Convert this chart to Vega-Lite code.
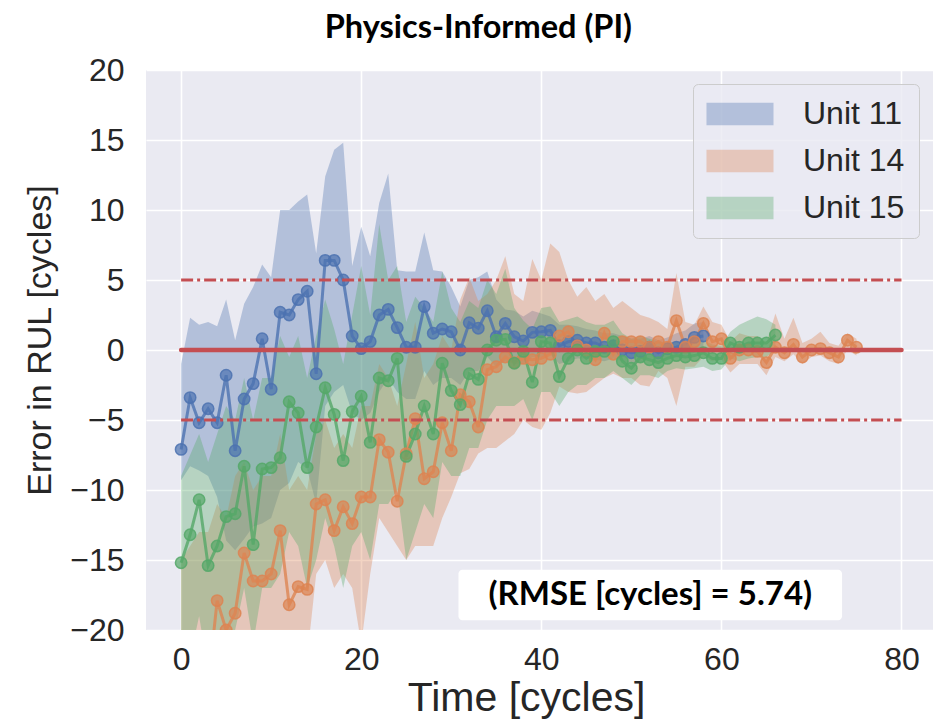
{
  "$schema": "https://vega.github.io/schema/vega-lite/v6.json",
  "width": 787,
  "height": 560,
  "autosize": {"type": "none"},
  "padding": {"left": 146, "top": 70, "right": 0, "bottom": 97},
  "background": "white",
  "title": {"text": "Physics-Informed (PI)", "font": "Lato", "fontWeight": "bold", "fontSize": 32.5, "color": "black", "anchor": "middle", "frame": "bounds", "offset": 10},
  "config": {
    "view": {"fill": "#EAEAF2", "stroke": null},
    "axis": {"gridColor": "white", "gridWidth": 1.6, "gridOpacity": 1, "domain": false, "ticks": false, "labelFont": "Liberation Sans", "labelFontSize": 32, "labelColor": "#262626", "titleFont": "Liberation Sans", "titleFontSize": 34, "titleFontWeight": "normal", "titleColor": "#262626"}
  },
  "data": {"values": [
    {"unit":"Unit 11","t":0,"m":-7.1,"lo":-9.3,"hi":-1.0},
    {"unit":"Unit 11","t":1,"m":-3.4,"lo":-8.3,"hi":2.3},
    {"unit":"Unit 11","t":2,"m":-5.2,"lo":-8.6,"hi":1.8},
    {"unit":"Unit 11","t":3,"m":-4.2,"lo":-9.0,"hi":2.0},
    {"unit":"Unit 11","t":4,"m":-5.2,"lo":-10.5,"hi":1.7},
    {"unit":"Unit 11","t":5,"m":-1.8,"lo":-13.6,"hi":3.6},
    {"unit":"Unit 11","t":6,"m":-7.2,"lo":-14.3,"hi":0.7},
    {"unit":"Unit 11","t":7,"m":-3.5,"lo":-13.5,"hi":3.3},
    {"unit":"Unit 11","t":8,"m":-2.4,"lo":-12.6,"hi":4.5},
    {"unit":"Unit 11","t":9,"m":0.8,"lo":-12.4,"hi":6.1},
    {"unit":"Unit 11","t":10,"m":-2.8,"lo":-12.0,"hi":5.2},
    {"unit":"Unit 11","t":11,"m":2.7,"lo":-10.0,"hi":10.0},
    {"unit":"Unit 11","t":12,"m":2.5,"lo":-9.5,"hi":10.0},
    {"unit":"Unit 11","t":13,"m":3.6,"lo":-8.0,"hi":10.6},
    {"unit":"Unit 11","t":14,"m":4.2,"lo":-8.5,"hi":11.1},
    {"unit":"Unit 11","t":15,"m":-1.7,"lo":-11.0,"hi":6.9},
    {"unit":"Unit 11","t":16,"m":6.4,"lo":-4.0,"hi":12.4},
    {"unit":"Unit 11","t":17,"m":6.4,"lo":-3.0,"hi":14.3},
    {"unit":"Unit 11","t":18,"m":5.0,"lo":-2.5,"hi":14.8},
    {"unit":"Unit 11","t":19,"m":1.0,"lo":-4.5,"hi":6.0},
    {"unit":"Unit 11","t":20,"m":0.1,"lo":-5.0,"hi":8.8},
    {"unit":"Unit 11","t":21,"m":0.6,"lo":-4.5,"hi":6.7},
    {"unit":"Unit 11","t":22,"m":2.5,"lo":-3.0,"hi":10.5},
    {"unit":"Unit 11","t":23,"m":2.9,"lo":-2.0,"hi":12.6},
    {"unit":"Unit 11","t":24,"m":1.6,"lo":-3.0,"hi":5.7},
    {"unit":"Unit 11","t":25,"m":0.2,"lo":-3.5,"hi":5.6},
    {"unit":"Unit 11","t":26,"m":0.2,"lo":-3.5,"hi":5.6},
    {"unit":"Unit 11","t":27,"m":3.1,"lo":-1.5,"hi":8.4},
    {"unit":"Unit 11","t":28,"m":1.2,"lo":-2.5,"hi":5.7},
    {"unit":"Unit 11","t":29,"m":1.5,"lo":-2.0,"hi":5.6},
    {"unit":"Unit 11","t":30,"m":1.3,"lo":-2.0,"hi":4.5},
    {"unit":"Unit 11","t":31,"m":0.0,"lo":-2.5,"hi":3.1},
    {"unit":"Unit 11","t":32,"m":1.95,"lo":-1.5,"hi":5.0},
    {"unit":"Unit 11","t":33,"m":1.55,"lo":-1.5,"hi":5.2},
    {"unit":"Unit 11","t":34,"m":2.8,"lo":-0.5,"hi":5.6},
    {"unit":"Unit 11","t":35,"m":0.95,"lo":-1.2,"hi":3.6},
    {"unit":"Unit 11","t":36,"m":1.9,"lo":-0.8,"hi":2.9},
    {"unit":"Unit 11","t":37,"m":0.95,"lo":-1.0,"hi":2.8},
    {"unit":"Unit 11","t":38,"m":0.64,"lo":-1.0,"hi":2.4},
    {"unit":"Unit 11","t":39,"m":1.26,"lo":-0.5,"hi":2.8},
    {"unit":"Unit 11","t":40,"m":1.3,"lo":-0.5,"hi":2.6},
    {"unit":"Unit 11","t":41,"m":1.4,"lo":-0.3,"hi":2.4},
    {"unit":"Unit 11","t":42,"m":0.3,"lo":-1.0,"hi":1.8},
    {"unit":"Unit 11","t":43,"m":0.6,"lo":-0.8,"hi":1.8},
    {"unit":"Unit 11","t":44,"m":0.7,"lo":-0.6,"hi":1.7},
    {"unit":"Unit 11","t":45,"m":0.5,"lo":-0.6,"hi":1.5},
    {"unit":"Unit 11","t":46,"m":0.5,"lo":-0.7,"hi":1.4},
    {"unit":"Unit 11","t":47,"m":0.2,"lo":-0.8,"hi":1.2},
    {"unit":"Unit 11","t":48,"m":0.3,"lo":-0.6,"hi":1.2},
    {"unit":"Unit 11","t":49,"m":0.0,"lo":-0.8,"hi":1.0},
    {"unit":"Unit 11","t":50,"m":-0.2,"lo":-1.0,"hi":0.8},
    {"unit":"Unit 11","t":51,"m":-0.1,"lo":-0.9,"hi":0.8},
    {"unit":"Unit 11","t":52,"m":0.2,"lo":-0.6,"hi":1.0},
    {"unit":"Unit 11","t":53,"m":-0.2,"lo":-0.9,"hi":0.7},
    {"unit":"Unit 11","t":54,"m":0.1,"lo":-0.6,"hi":0.9},
    {"unit":"Unit 11","t":55,"m":0.2,"lo":-0.5,"hi":1.2},
    {"unit":"Unit 11","t":56,"m":0.4,"lo":-0.4,"hi":1.4},
    {"unit":"Unit 11","t":57,"m":0.9,"lo":-0.2,"hi":1.9},
    {"unit":"Unit 11","t":58,"m":1.0,"lo":0.0,"hi":2.0},
    {"unit":"Unit 14","t":0,"m":-28,"lo":-40,"hi":-15},
    {"unit":"Unit 14","t":1,"m":-27,"lo":-40,"hi":-14},
    {"unit":"Unit 14","t":2,"m":-26,"lo":-38,"hi":-13},
    {"unit":"Unit 14","t":3,"m":-24,"lo":-36,"hi":-13},
    {"unit":"Unit 14","t":4,"m":-17.9,"lo":-30,"hi":-11},
    {"unit":"Unit 14","t":5,"m":-20.0,"lo":-32,"hi":-12},
    {"unit":"Unit 14","t":6,"m":-18.8,"lo":-30,"hi":-9},
    {"unit":"Unit 14","t":7,"m":-14.5,"lo":-26,"hi":-8},
    {"unit":"Unit 14","t":8,"m":-16.5,"lo":-28,"hi":-10},
    {"unit":"Unit 14","t":9,"m":-16.5,"lo":-27,"hi":-9},
    {"unit":"Unit 14","t":10,"m":-16.0,"lo":-26,"hi":-9},
    {"unit":"Unit 14","t":11,"m":-12.9,"lo":-22,"hi":-6},
    {"unit":"Unit 14","t":12,"m":-18.2,"lo":-28,"hi":-10},
    {"unit":"Unit 14","t":13,"m":-16.9,"lo":-26,"hi":-9},
    {"unit":"Unit 14","t":14,"m":-17.1,"lo":-22,"hi":-10},
    {"unit":"Unit 14","t":15,"m":-11.0,"lo":-16,"hi":-6},
    {"unit":"Unit 14","t":16,"m":-10.7,"lo":-15,"hi":-5},
    {"unit":"Unit 14","t":17,"m":-12.9,"lo":-17,"hi":-7},
    {"unit":"Unit 14","t":18,"m":-11.2,"lo":-16,"hi":-6},
    {"unit":"Unit 14","t":19,"m":-12.4,"lo":-17,"hi":-7},
    {"unit":"Unit 14","t":20,"m":-10.5,"lo":-21,"hi":-4},
    {"unit":"Unit 14","t":21,"m":-10.5,"lo":-16,"hi":-4},
    {"unit":"Unit 14","t":22,"m":-6.4,"lo":-12,"hi":-1},
    {"unit":"Unit 14","t":23,"m":-7.3,"lo":-13,"hi":-2},
    {"unit":"Unit 14","t":24,"m":-10.8,"lo":-14,"hi":-4},
    {"unit":"Unit 14","t":25,"m":-7.4,"lo":-15,"hi":-1},
    {"unit":"Unit 14","t":26,"m":-4.9,"lo":-14,"hi":2},
    {"unit":"Unit 14","t":27,"m":-9.2,"lo":-14,"hi":-2},
    {"unit":"Unit 14","t":28,"m":-8.7,"lo":-14,"hi":-1},
    {"unit":"Unit 14","t":29,"m":-5.2,"lo":-12,"hi":1},
    {"unit":"Unit 14","t":30,"m":-7.2,"lo":-10.5,"hi":0},
    {"unit":"Unit 14","t":31,"m":-3.2,"lo":-8.8,"hi":3.6},
    {"unit":"Unit 14","t":32,"m":-3.7,"lo":-8.5,"hi":5.2},
    {"unit":"Unit 14","t":33,"m":-5.5,"lo":-7.4,"hi":3.5},
    {"unit":"Unit 14","t":34,"m":-1.4,"lo":-7,"hi":4},
    {"unit":"Unit 14","t":35,"m":-1.2,"lo":-7,"hi":5},
    {"unit":"Unit 14","t":36,"m":-0.5,"lo":-6.5,"hi":6.7},
    {"unit":"Unit 14","t":37,"m":-0.9,"lo":-6,"hi":4},
    {"unit":"Unit 14","t":38,"m":-0.6,"lo":-5,"hi":3.5},
    {"unit":"Unit 14","t":39,"m":-0.7,"lo":-5.5,"hi":6.5},
    {"unit":"Unit 14","t":40,"m":-0.6,"lo":-5.7,"hi":5},
    {"unit":"Unit 14","t":41,"m":-0.3,"lo":-4.5,"hi":7.6},
    {"unit":"Unit 14","t":42,"m":1.0,"lo":-2.6,"hi":7},
    {"unit":"Unit 14","t":43,"m":1.3,"lo":-3,"hi":5},
    {"unit":"Unit 14","t":44,"m":0.3,"lo":-3.1,"hi":3.8},
    {"unit":"Unit 14","t":45,"m":0.0,"lo":-3,"hi":4.5},
    {"unit":"Unit 14","t":46,"m":-0.7,"lo":-2.5,"hi":3.5},
    {"unit":"Unit 14","t":47,"m":1.2,"lo":-2,"hi":4},
    {"unit":"Unit 14","t":48,"m":-0.3,"lo":-1.7,"hi":3},
    {"unit":"Unit 14","t":49,"m":0.6,"lo":-2,"hi":3.5},
    {"unit":"Unit 14","t":50,"m":0.6,"lo":-2,"hi":3},
    {"unit":"Unit 14","t":51,"m":0.6,"lo":-2.5,"hi":2.5},
    {"unit":"Unit 14","t":52,"m":0.2,"lo":-2.6,"hi":2.3},
    {"unit":"Unit 14","t":53,"m":0.6,"lo":-1.5,"hi":2},
    {"unit":"Unit 14","t":54,"m":0.2,"lo":-2,"hi":1.5},
    {"unit":"Unit 14","t":55,"m":2.1,"lo":-4,"hi":5.5},
    {"unit":"Unit 14","t":56,"m":0.2,"lo":-1.2,"hi":2},
    {"unit":"Unit 14","t":57,"m":0.6,"lo":-1.2,"hi":1.8},
    {"unit":"Unit 14","t":58,"m":1.9,"lo":-0.5,"hi":3.1},
    {"unit":"Unit 14","t":59,"m":0.6,"lo":-0.8,"hi":2},
    {"unit":"Unit 14","t":60,"m":0.8,"lo":-0.7,"hi":1.8},
    {"unit":"Unit 14","t":61,"m":-0.6,"lo":-1.6,"hi":0.6},
    {"unit":"Unit 14","t":62,"m":0.0,"lo":-1,"hi":1.2},
    {"unit":"Unit 14","t":63,"m":0.0,"lo":-1,"hi":1},
    {"unit":"Unit 14","t":64,"m":-0.1,"lo":-1,"hi":1},
    {"unit":"Unit 14","t":65,"m":-0.9,"lo":-1.8,"hi":0.5},
    {"unit":"Unit 14","t":66,"m":0.2,"lo":-0.5,"hi":2.6},
    {"unit":"Unit 14","t":67,"m":-0.2,"lo":-0.8,"hi":0.8},
    {"unit":"Unit 14","t":68,"m":0.4,"lo":-0.3,"hi":2.3},
    {"unit":"Unit 14","t":69,"m":-0.5,"lo":-1,"hi":0.5},
    {"unit":"Unit 14","t":70,"m":0.0,"lo":-0.5,"hi":0.8},
    {"unit":"Unit 14","t":71,"m":0.1,"lo":-0.4,"hi":1.3},
    {"unit":"Unit 14","t":72,"m":-0.2,"lo":-0.8,"hi":0.5},
    {"unit":"Unit 14","t":73,"m":-0.5,"lo":-1,"hi":0.3},
    {"unit":"Unit 14","t":74,"m":0.7,"lo":0,"hi":1.2},
    {"unit":"Unit 14","t":75,"m":0.2,"lo":-0.4,"hi":0.8},
    {"unit":"Unit 15","t":0,"m":-15.2,"lo":-25,"hi":-9},
    {"unit":"Unit 15","t":1,"m":-13.2,"lo":-22,"hi":-7.5},
    {"unit":"Unit 15","t":2,"m":-10.7,"lo":-19,"hi":-6},
    {"unit":"Unit 15","t":3,"m":-15.4,"lo":-23,"hi":-8},
    {"unit":"Unit 15","t":4,"m":-14.0,"lo":-22,"hi":-6},
    {"unit":"Unit 15","t":5,"m":-11.9,"lo":-20,"hi":-4},
    {"unit":"Unit 15","t":6,"m":-11.7,"lo":-20,"hi":-5},
    {"unit":"Unit 15","t":7,"m":-8.3,"lo":-17,"hi":-2},
    {"unit":"Unit 15","t":8,"m":-13.9,"lo":-21,"hi":-5},
    {"unit":"Unit 15","t":9,"m":-8.5,"lo":-17,"hi":-2},
    {"unit":"Unit 15","t":10,"m":-8.4,"lo":-17,"hi":-2},
    {"unit":"Unit 15","t":11,"m":-7.7,"lo":-16,"hi":1.0},
    {"unit":"Unit 15","t":12,"m":-3.7,"lo":-13,"hi":-0.5},
    {"unit":"Unit 15","t":13,"m":-4.5,"lo":-14,"hi":1},
    {"unit":"Unit 15","t":14,"m":-8.4,"lo":-17,"hi":-2},
    {"unit":"Unit 15","t":15,"m":-5.5,"lo":-15,"hi":1},
    {"unit":"Unit 15","t":16,"m":-2.7,"lo":-12,"hi":3.6},
    {"unit":"Unit 15","t":17,"m":-4.6,"lo":-14,"hi":1.5},
    {"unit":"Unit 15","t":18,"m":-7.9,"lo":-17,"hi":-1},
    {"unit":"Unit 15","t":19,"m":-4.4,"lo":-14,"hi":2.5},
    {"unit":"Unit 15","t":20,"m":-3.3,"lo":-13,"hi":6.0},
    {"unit":"Unit 15","t":21,"m":-6.6,"lo":-15,"hi":2.5},
    {"unit":"Unit 15","t":22,"m":-2.0,"lo":-11,"hi":9.0},
    {"unit":"Unit 15","t":23,"m":-2.2,"lo":-11,"hi":5},
    {"unit":"Unit 15","t":24,"m":-0.6,"lo":-10,"hi":6.0},
    {"unit":"Unit 15","t":25,"m":-7.6,"lo":-15,"hi":2},
    {"unit":"Unit 15","t":26,"m":-6.0,"lo":-13,"hi":3.8},
    {"unit":"Unit 15","t":27,"m":-4.0,"lo":-11,"hi":3},
    {"unit":"Unit 15","t":28,"m":-6.0,"lo":-12,"hi":2},
    {"unit":"Unit 15","t":29,"m":-0.95,"lo":-8,"hi":5.6},
    {"unit":"Unit 15","t":30,"m":-2.9,"lo":-9,"hi":3},
    {"unit":"Unit 15","t":31,"m":-3.9,"lo":-9,"hi":2},
    {"unit":"Unit 15","t":32,"m":-1.7,"lo":-7,"hi":3.5},
    {"unit":"Unit 15","t":33,"m":-2.1,"lo":-7,"hi":3},
    {"unit":"Unit 15","t":34,"m":0.0,"lo":-5,"hi":5.0},
    {"unit":"Unit 15","t":35,"m":0.7,"lo":-4,"hi":4},
    {"unit":"Unit 15","t":36,"m":0.76,"lo":-4,"hi":5.8},
    {"unit":"Unit 15","t":37,"m":-0.95,"lo":-4,"hi":3},
    {"unit":"Unit 15","t":38,"m":-0.1,"lo":-3.5,"hi":2.1},
    {"unit":"Unit 15","t":39,"m":-2.3,"lo":-5,"hi":1.5},
    {"unit":"Unit 15","t":40,"m":0.6,"lo":-3,"hi":3},
    {"unit":"Unit 15","t":41,"m":0.5,"lo":-3,"hi":3.1},
    {"unit":"Unit 15","t":42,"m":-1.9,"lo":-4,"hi":2.0},
    {"unit":"Unit 15","t":43,"m":-0.6,"lo":-3,"hi":2.2},
    {"unit":"Unit 15","t":44,"m":0.0,"lo":-2.5,"hi":2.4},
    {"unit":"Unit 15","t":45,"m":-0.6,"lo":-2.5,"hi":2},
    {"unit":"Unit 15","t":46,"m":-0.1,"lo":-2,"hi":1.8},
    {"unit":"Unit 15","t":47,"m":-0.1,"lo":-2,"hi":1.8},
    {"unit":"Unit 15","t":48,"m":0.6,"lo":-1.5,"hi":2.1},
    {"unit":"Unit 15","t":49,"m":-0.8,"lo":-2,"hi":1.2},
    {"unit":"Unit 15","t":50,"m":-1.3,"lo":-2.5,"hi":0.8},
    {"unit":"Unit 15","t":51,"m":-0.5,"lo":-1.8,"hi":1},
    {"unit":"Unit 15","t":52,"m":-0.7,"lo":-1.8,"hi":0.8},
    {"unit":"Unit 15","t":53,"m":-0.9,"lo":-2,"hi":0.6},
    {"unit":"Unit 15","t":54,"m":-0.6,"lo":-1.5,"hi":0.5},
    {"unit":"Unit 15","t":55,"m":-0.4,"lo":-1.3,"hi":0.6},
    {"unit":"Unit 15","t":56,"m":-0.5,"lo":-1.4,"hi":0.5},
    {"unit":"Unit 15","t":57,"m":-0.4,"lo":-1.3,"hi":0.6},
    {"unit":"Unit 15","t":58,"m":-0.2,"lo":-1.2,"hi":0.7},
    {"unit":"Unit 15","t":59,"m":-0.6,"lo":-1.5,"hi":0.4},
    {"unit":"Unit 15","t":60,"m":-0.6,"lo":-1.4,"hi":0.3},
    {"unit":"Unit 15","t":61,"m":0.5,"lo":-0.6,"hi":1.3},
    {"unit":"Unit 15","t":62,"m":0.2,"lo":-0.8,"hi":1.8},
    {"unit":"Unit 15","t":63,"m":0.5,"lo":-0.6,"hi":2.1},
    {"unit":"Unit 15","t":64,"m":0.5,"lo":-0.5,"hi":2.4},
    {"unit":"Unit 15","t":65,"m":0.5,"lo":-0.5,"hi":2.2},
    {"unit":"Unit 15","t":66,"m":1.07,"lo":0.0,"hi":1.8}
  ]},
  "encoding": {
    "x": {"type": "quantitative", "title": "Time [cycles]", "scale": {"domain": [-3.9, 83.5], "nice": false, "zero": false}, "axis": {"values": [0, 20, 40, 60, 80], "labelPadding": 14, "titlePadding": 3, "titleFontSize": 41, "titleX": 380}},
    "y": {"type": "quantitative", "title": "Error in RUL [cycles]", "scale": {"domain": [-20, 20], "nice": false}, "axis": {"values": [-20, -15, -10, -5, 0, 5, 10, 15, 20], "labelPadding": 22, "titlePadding": 12, "titleY": 270}}
  },
  "layer": [
    {
      "mark": {"type": "area", "opacity": 0.35, "clip": true, "interpolate": "linear"},
      "encoding": {
        "x": {"field": "t", "type": "quantitative"},
        "y": {"field": "lo", "type": "quantitative"},
        "y2": {"field": "hi"},
        "fill": {"field": "unit", "type": "nominal", "scale": {"domain": ["Unit 11", "Unit 14", "Unit 15"], "range": ["#4C72B0", "#DD8452", "#55A868"]},
          "legend": {"title": null, "orient": "top-right", "offset": 14, "symbolType": "M-3,-1H3V1H-3Z", "symbolSize": 499, "symbolOffset": 17, "symbolOpacity": 0.35, "symbolStrokeWidth": 0, "labelFontSize": 32, "labelFont": "Liberation Sans", "labelColor": "#262626", "labelOffset": 47, "rowPadding": 15, "padding": 14, "fillColor": "rgba(234,234,242,0.8)", "strokeColor": "#CCCCCC", "cornerRadius": 5}}
      }
    },
    {
      "mark": {"type": "line", "strokeWidth": 3, "opacity": 0.8, "clip": true},
      "encoding": {
        "x": {"field": "t", "type": "quantitative"},
        "y": {"field": "m", "type": "quantitative"},
        "stroke": {"field": "unit", "type": "nominal", "scale": {"domain": ["Unit 11", "Unit 14", "Unit 15"], "range": ["#4C72B0", "#DD8452", "#55A868"]}, "legend": null}
      }
    },
    {
      "mark": {"type": "point", "filled": true, "size": 130, "fillOpacity": 0.7, "strokeOpacity": 0.85, "strokeWidth": 1.5, "clip": true},
      "encoding": {
        "x": {"field": "t", "type": "quantitative"},
        "y": {"field": "m", "type": "quantitative"},
        "color": {"field": "unit", "type": "nominal", "scale": {"domain": ["Unit 11", "Unit 14", "Unit 15"], "range": ["#4C72B0", "#DD8452", "#55A868"]}, "legend": null},
        "stroke": {"field": "unit", "type": "nominal", "legend": null}
      }
    },
    {
      "data": {"values": [{"lvl": 5}, {"lvl": -5}]},
      "mark": {"type": "rule", "color": "#C44E52", "strokeWidth": 2.8, "strokeDash": [12, 4, 3, 4]},
      "encoding": {"x": {"datum": 0}, "x2": {"datum": 80}, "y": {"field": "lvl", "type": "quantitative"}}
    },
    {
      "data": {"values": [{"lvl": 0}]},
      "mark": {"type": "rule", "color": "#C44E52", "strokeWidth": 4.5, "strokeCap": "round"},
      "encoding": {"x": {"datum": 0}, "x2": {"datum": 80}, "y": {"field": "lvl", "type": "quantitative"}}
    },
    {
      "data": {"values": [{"label": "(RMSE [cycles] = 5.74)"}]},
      "mark": {"type": "rect", "fill": "white", "cornerRadius": 4},
      "encoding": {"x": {"datum": 30.8}, "x2": {"datum": 73.4}, "y": {"datum": -15.7}, "y2": {"datum": -19.3}}
    },
    {
      "data": {"values": [{"label": "(RMSE [cycles] = 5.74)"}]},
      "mark": {"type": "text", "font": "Lato", "fontWeight": "bold", "fontSize": 33, "color": "black", "align": "center", "baseline": "middle"},
      "encoding": {"x": {"datum": 52.1}, "y": {"datum": -17.5}, "text": {"field": "label"}}
    }
  ]
}
